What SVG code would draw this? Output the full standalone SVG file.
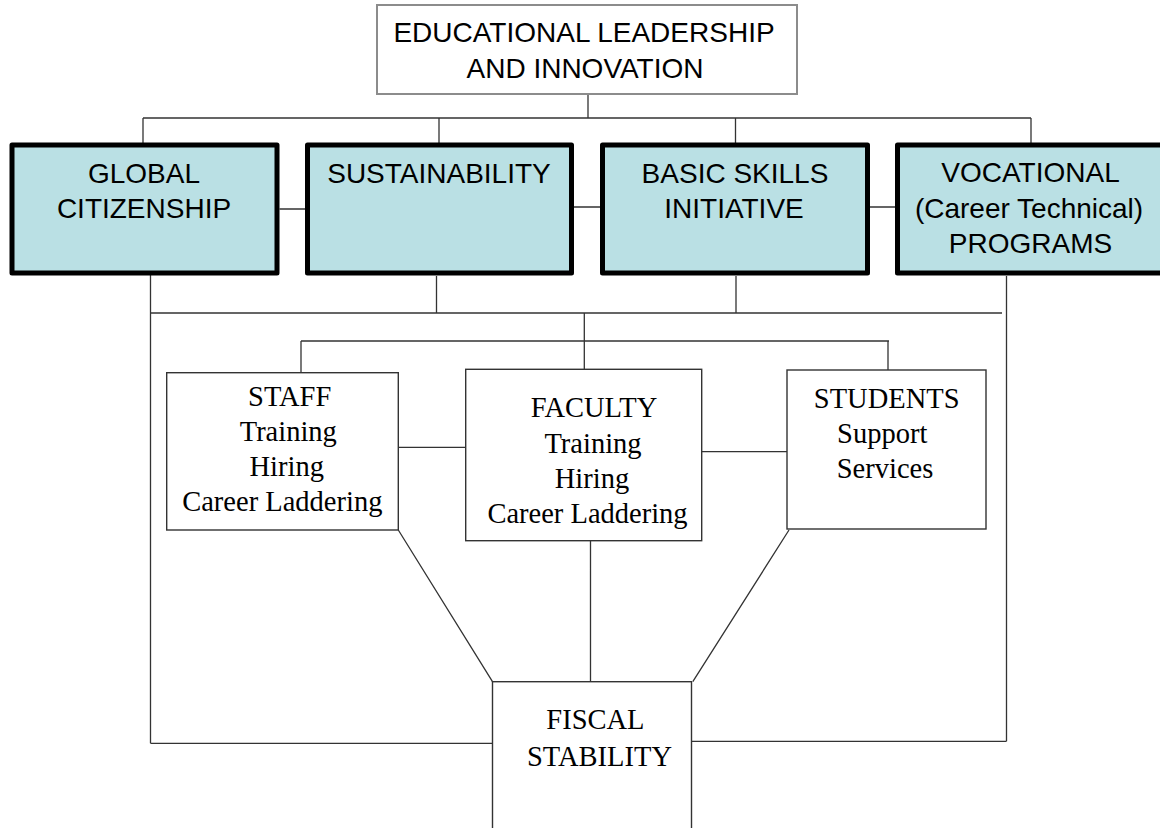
<svg xmlns="http://www.w3.org/2000/svg" width="1160" height="828" viewBox="0 0 1160 828">
<style>
.bg{fill:#ffffff}
.ln{stroke:#333;stroke-width:1.3;fill:none}
.top{fill:#ffffff;stroke:#8c8c8c;stroke-width:2}
.green{fill:#bae0e4;stroke:#000;stroke-width:5;stroke-linejoin:round}
.wbox{fill:#ffffff;stroke:#333;stroke-width:1.4}
.sans{font-family:"Liberation Sans",Arial,sans-serif;font-size:28px;fill:#000;text-anchor:middle}
.serif{font-family:"Liberation Serif","Times New Roman",serif;font-size:28.5px;fill:#000;text-anchor:middle}
</style>
<rect class="bg" x="0" y="0" width="1160" height="828"/>
<g id="connectors">
<path class="ln" d="M588,94V118M143,118H1031M143,118V143M439,118V143M735.5,118V143M1031,118V143"/>
<path class="ln" d="M279.5,209H305M574,207H600M870,207H895"/>
<path class="ln" d="M150.5,275V743.3M436.5,276V313M736,276V313M1006.5,276V741.3M150,313H1002"/>
<path class="ln" d="M584.3,313V369.3M301,341H889M301,341V372.7M888,341V370"/>
<path class="ln" d="M398.3,447.3H465.7M701.7,451.7H787"/>
<path class="ln" d="M398.3,530L492.5,681.7M789,530L692.8,681.7M590.5,540.7V681.7"/>
<path class="ln" d="M150.5,743.3H492.5M691.5,741.3H1006.5"/>
</g>
<g id="n-top">
<rect class="top" x="377" y="5" width="420" height="89"/>
<text class="sans" x="584" y="42">EDUCATIONAL LEADERSHIP</text>
<text class="sans" x="585" y="78">AND INNOVATION</text>
</g>
<g id="n-global">
<rect class="green" x="12" y="145" width="265" height="128"/>
<text class="sans" x="144" y="182.7">GLOBAL</text>
<text class="sans" x="144" y="218.3">CITIZENSHIP</text>
</g>
<g id="n-sustain">
<rect class="green" x="307.5" y="145" width="264" height="128"/>
<text class="sans" x="439" y="182.7">SUSTAINABILITY</text>
</g>
<g id="n-basic">
<rect class="green" x="602.5" y="145" width="265" height="128"/>
<text class="sans" x="735" y="182.7">BASIC SKILLS</text>
<text class="sans" x="734" y="218.3">INITIATIVE</text>
</g>
<g id="n-vocational">
<rect class="green" x="897.5" y="145" width="268" height="128"/>
<text class="sans" x="1030.5" y="181.7">VOCATIONAL</text>
<text class="sans" x="1029" y="218.3">(Career Technical)</text>
<text class="sans" x="1030.5" y="253.3">PROGRAMS</text>
</g>
<g id="n-staff">
<rect class="wbox" x="166.7" y="372.7" width="231.6" height="157.3"/>
<text class="serif" x="289.7" y="406">STAFF</text>
<text class="serif" x="288.3" y="440.7">Training</text>
<text class="serif" x="286.7" y="475.5">Hiring</text>
<text class="serif" x="282.3" y="510.7">Career Laddering</text>
</g>
<g id="n-faculty">
<rect class="wbox" x="465.7" y="369.3" width="236" height="171.4"/>
<text class="serif" x="594" y="417.3">FACULTY</text>
<text class="serif" x="593" y="452.7">Training</text>
<text class="serif" x="592" y="488">Hiring</text>
<text class="serif" x="587.5" y="523.3">Career Laddering</text>
</g>
<g id="n-students">
<rect class="wbox" x="787" y="370" width="199" height="159"/>
<text class="serif" x="886.7" y="408.3">STUDENTS</text>
<text class="serif" x="882.2" y="443.3">Support</text>
<text class="serif" x="885" y="478.3">Services</text>
</g>
<g id="n-fiscal">
<rect class="wbox" x="492.5" y="681.7" width="199" height="160"/>
<text class="serif" x="595.4" y="729.3">FISCAL</text>
<text class="serif" x="599.5" y="766">STABILITY</text>
</g>
</svg>
